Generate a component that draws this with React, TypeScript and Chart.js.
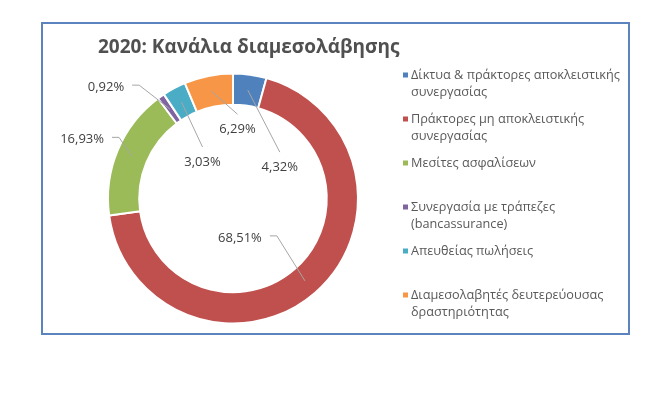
import React, { useEffect, useRef } from "react";
import { Chart, registerables } from "chart.js";

Chart.register(...registerables);

const chartTitle = "2020: Κανάλια διαμεσολάβησης";
const categories: string[][] = [
  ["Δίκτυα & πράκτορες αποκλειστικής", "συνεργασίας"],
  ["Πράκτορες μη αποκλειστικής", "συνεργασίας"],
  ["Μεσίτες ασφαλίσεων"],
  ["Συνεργασία με τράπεζες", "(bancassurance)"],
  ["Απευθείας πωλήσεις"],
  ["Διαμεσολαβητές δευτερεύουσας", "δραστηριότητας"],
];
const values = [4.32, 68.51, 16.93, 0.92, 3.03, 6.29];
const colors = ["#4F81BD", "#C0504D", "#9BBB59", "#8064A2", "#4BACC6", "#F79646"];

// label layout (offset of the label centre from the slice anchor, and leader style)
const labelLayout: [number, number, "top" | "side"][] = [
  [32, 77, "top"],
  [-65, -43, "side"],
  [-50, -17, "side"],
  [-64, -22, "side"],
  [21, 60, "top"],
  [26, 38, "top"],
];

const FONT = "'Open Sans', 'DejaVu Sans', sans-serif";
const fmt = (v: number) => v.toFixed(2).replace(".", ",") + "%";

const decorPlugin = {
  id: "decor",
  afterDraw(chart: any) {
    const ctx: CanvasRenderingContext2D = chart.ctx;
    ctx.save();
    // frame
    ctx.strokeStyle = "#5B83BD";
    ctx.lineWidth = 2;
    ctx.strokeRect(42, 23, 587, 311);

    // title
    ctx.fillStyle = "#505050";
    ctx.font = `bold 19px ${FONT}`;
    ctx.textAlign = "left";
    ctx.textBaseline = "middle";
    ctx.fillText(chartTitle, 98, 48);

    // legend
    ctx.font = `12.7px ${FONT}`;
    categories.forEach((lines, i) => {
      const y0 = 75 + i * 44;
      ctx.fillStyle = colors[i];
      ctx.fillRect(403, y0 - 2.5, 5, 5);
      ctx.fillStyle = "#595959";
      lines.forEach((ln, j) => {
        ctx.fillText(ln, 411, y0 + j * 17.5);
      });
    });

    // data labels with leader lines
    const meta = chart.getDatasetMeta(0);
    ctx.font = `13px ${FONT}`;
    ctx.textAlign = "center";
    meta.data.forEach((arc: any, i: number) => {
      const p = arc.getProps(["x", "y", "startAngle", "endAngle", "innerRadius", "outerRadius"], true);
      const mid = (p.startAngle + p.endAngle) / 2;
      const r = (p.innerRadius + p.outerRadius) / 2;
      const ax = p.x + Math.cos(mid) * r;
      const ay = p.y + Math.sin(mid) * r;
      const [dx, dy, kind] = labelLayout[i];
      const lx = ax + dx;
      const ly = ay + dy;
      const text = fmt(values[i]);
      const w = ctx.measureText(text).width;
      ctx.strokeStyle = "#A6A6A6";
      ctx.lineWidth = 1;
      ctx.beginPath();
      if (kind === "top") {
        ctx.moveTo(ax, ay);
        ctx.lineTo(lx, ly - 15);
      } else {
        const sx = lx + w / 2 + 8;
        ctx.moveTo(sx, ly - 2);
        ctx.lineTo(sx + 7, ly - 2);
        ctx.lineTo(ax, ay);
      }
      ctx.stroke();
      ctx.fillStyle = "#404040";
      ctx.fillText(text, lx, ly);
    });
    ctx.restore();
  },
};

export default function App() {
  const ref = useRef<HTMLCanvasElement | null>(null);
  useEffect(() => {
    if (!ref.current) return;
    const chart = new Chart(ref.current, {
      type: "doughnut",
      data: {
        labels: categories.map((l) => l.join(" ")),
        datasets: [
          {
            data: values,
            backgroundColor: colors,
            borderColor: "#FFFFFF",
            borderWidth: 2,
          },
        ],
      },
      options: {
        animation: false,
        responsive: false,
        devicePixelRatio: 1,
        cutout: "75%",
        layout: { padding: { left: 107, right: 302, top: 72.5, bottom: 71.5 } },
        plugins: {
          legend: { display: false },
          title: { display: false },
          tooltip: { enabled: false },
        },
      },
      plugins: [decorPlugin],
    });
    return () => chart.destroy();
  }, []);
  return (
    <div style={{ position: "fixed", left: 0, top: 0, width: 661, height: 396, background: "#fff" }}>
      <canvas ref={ref} width={661} height={396} style={{ display: "block" }} />
    </div>
  );
}
